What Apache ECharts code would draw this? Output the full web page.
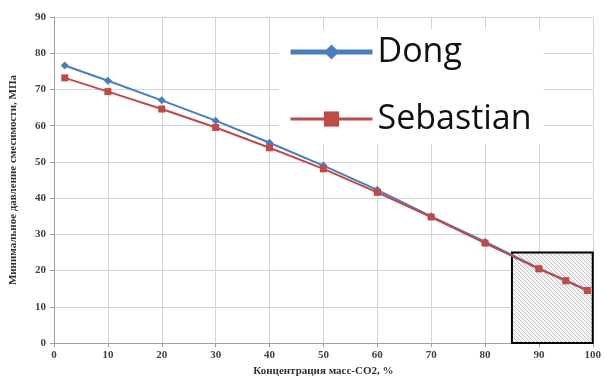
<!DOCTYPE html>
<html><head><meta charset="utf-8">
<script src="https://cdn.jsdelivr.net/npm/echarts@6/dist/echarts.min.js"></script>
<style>html,body{margin:0;padding:0;background:#fff}#c{width:604px;height:382px}</style>
</head><body><div id="c"></div>
<script>
var xValues = [2, 10, 20, 30, 40, 50, 60, 70, 80, 90, 95, 99];
var dongValues = [76.6, 72.4, 67.0, 61.4, 55.3, 49.0, 42.3, 35.0, 28.0, 20.6, 17.3, 14.6];
var sebastianValues = [73.2, 69.4, 64.6, 59.5, 53.9, 48.1, 41.6, 34.8, 27.6, 20.5, 17.2, 14.5];
var seriesNames = ['Dong', 'Sebastian'];
var highlightBox = [[85, 25], [100, 0]];
var xTitle = 'Концентрация масс-CO2, %';
var yTitle = 'Минимальное давление смесимости, МПа';

function pairs(xs, ys) { return xs.map(function (x, i) { return [x, ys[i]]; }); }

var cv = document.createElement('canvas');
cv.width = 4; cv.height = 4;
var g = cv.getContext('2d');
g.fillStyle = '#f6f6f6'; g.fillRect(0, 0, 4, 4);
g.strokeStyle = '#bdbdbd'; g.lineWidth = 0.9;
g.beginPath(); g.moveTo(-1, -1); g.lineTo(5, 5); g.stroke();
g.beginPath(); g.moveTo(-1, 3); g.lineTo(1, 5); g.stroke();
g.beginPath(); g.moveTo(3, -1); g.lineTo(5, 1); g.stroke();

var axisFont = { fontFamily: 'Liberation Serif', fontWeight: 'bold', fontSize: 11, color: '#404040' };
var chart = echarts.init(document.getElementById('c'), null, { renderer: 'canvas' });
chart.setOption({
  animation: false,
  backgroundColor: '#fff',
  grid: { left: 53, right: 7, top: 17, bottom: 31 },
  xAxis: {
    type: 'value', min: 0, max: 100, interval: 10,
    name: xTitle, nameLocation: 'middle', nameGap: 21,
    nameTextStyle: { fontFamily: 'Liberation Serif', fontWeight: 'bold', fontSize: 11, color: '#303030' },
    axisLine: { show: true, lineStyle: { color: '#a0a0a0' } },
    axisTick: { show: true, length: 4, lineStyle: { color: '#a0a0a0' } },
    axisLabel: Object.assign({ margin: 7 }, axisFont),
    splitLine: { show: true, lineStyle: { color: '#d4d4d4' } }
  },
  yAxis: {
    type: 'value', min: 0, max: 90, interval: 10,
    name: yTitle, nameLocation: 'middle', nameGap: 35, nameRotate: 90,
    nameTextStyle: { fontFamily: 'Liberation Serif', fontWeight: 'bold', fontSize: 11, color: '#303030' },
    axisLine: { show: true, lineStyle: { color: '#a0a0a0' } },
    axisTick: { show: true, length: 4, lineStyle: { color: '#a0a0a0' } },
    axisLabel: Object.assign({ margin: 8 }, axisFont),
    splitLine: { show: true, lineStyle: { color: '#d4d4d4' } }
  },
  legend: {
    orient: 'vertical', left: 279, top: 29,
    backgroundColor: '#fff', padding: [6, 12, 8, 9],
    itemWidth: 82, itemHeight: 19, itemGap: 33,
    textStyle: { fontFamily: 'Open Sans', fontSize: 34, color: '#111' },
    data: [
      { name: 'Dong', lineStyle: { width: 5 } },
      { name: 'Sebastian', lineStyle: { width: 3 } }
    ]
  },
  series: [
    {
      name: seriesNames[0], type: 'line', data: pairs(xValues, dongValues),
      symbol: 'diamond', symbolSize: 8,
      lineStyle: { color: '#4a7ebb', width: 2 },
      itemStyle: { color: '#4a7ebb' }, z: 3
    },
    {
      name: seriesNames[1], type: 'line', data: pairs(xValues, sebastianValues),
      symbol: 'rect', symbolSize: 7,
      lineStyle: { color: '#be4b48', width: 2 },
      itemStyle: { color: '#be4b48' }, z: 4,
      markArea: {
        silent: true,
        itemStyle: { color: { image: cv, repeat: 'repeat' }, borderColor: '#000', borderWidth: 2, opacity: 1 },
        data: [[{ coord: highlightBox[0] }, { coord: highlightBox[1] }]]
      }
    }
  ]
});
</script></body></html>
